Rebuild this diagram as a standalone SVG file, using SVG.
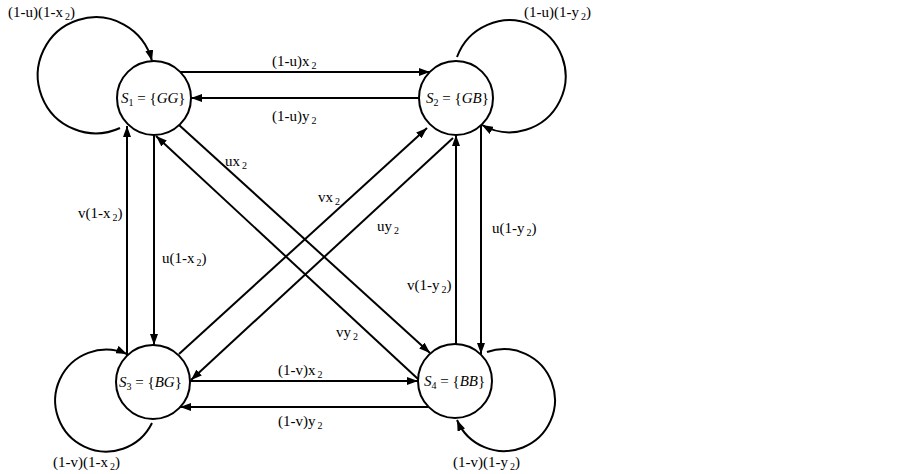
<svg xmlns="http://www.w3.org/2000/svg" width="903" height="474" viewBox="0 0 903 474">
<style>
.n{fill:#fff;stroke:#000;stroke-width:2}
.c{fill:none;stroke:#000;stroke-width:2;marker-end:url(#ah)}
.c0{fill:none;stroke:#000;stroke-width:2}
text{font-family:"Liberation Serif","Times New Roman",serif;font-size:15px;fill:#000}
.s{font-size:10px}
.i{font-style:italic}
</style>
<defs>
<marker id="ah" markerUnits="userSpaceOnUse" markerWidth="12" markerHeight="8" refX="11" refY="4" orient="auto">
<path d="M0,0 L11,4 L0,8 z" fill="#000"/>
</marker>
</defs>
<rect width="903" height="474" fill="#fff"/>
<g id="connectors">
<path class="c" d="M120,128 A58,58 0 1 1 152,61"/>
<path class="c" d="M457,57 A56,56 0 1 1 482,125"/>
<path class="c" d="M152,423 A51,51 0 1 1 127,354"/>
<path class="c" d="M487,352 A51,51 0 1 1 457,420"/>
<path class="c" d="M180,72 H430"/>
<path class="c" d="M419,98 H191"/>
<path class="c" d="M190,381 H418"/>
<path class="c" d="M428,407 H180"/>
<path class="c" d="M127,356 V126"/>
<path class="c" d="M154,135 V345"/>
<path class="c" d="M456,344 V135"/>
<path class="c" d="M481,125 V354"/>
<path class="c" d="M179,125 L430,353"/>
<path class="c" d="M418,379 L156,136"/>
<path class="c" d="M179,354 L427,128"/>
<path class="c" d="M453,138 L191,380"/>
</g>
<g id="labels">
<text x="8" y="17">(1-u)(1-x<tspan class="s" dx="2" dy="3">2</tspan><tspan dy="-3">)</tspan></text>
<text x="524" y="17">(1-u)(1-y<tspan class="s" dx="2" dy="3">2</tspan><tspan dy="-3">)</tspan></text>
<text x="272" y="66">(1-u)x<tspan class="s" dx="2" dy="3">2</tspan></text>
<text x="272" y="121">(1-u)y<tspan class="s" dx="2" dy="3">2</tspan></text>
<text x="225" y="166">ux<tspan class="s" dx="2" dy="3">2</tspan></text>
<text x="318" y="202">vx<tspan class="s" dx="2" dy="3">2</tspan></text>
<text x="377" y="231">uy<tspan class="s" dx="2" dy="3">2</tspan></text>
<text x="78" y="218">v(1-x<tspan class="s" dx="2" dy="3">2</tspan><tspan dy="-3">)</tspan></text>
<text x="162" y="263">u(1-x<tspan class="s" dx="2" dy="3">2</tspan><tspan dy="-3">)</tspan></text>
<text x="492" y="233">u(1-y<tspan class="s" dx="2" dy="3">2</tspan><tspan dy="-3">)</tspan></text>
<text x="407" y="290">v(1-y<tspan class="s" dx="2" dy="3">2</tspan><tspan dy="-3">)</tspan></text>
<text x="336" y="337">vy<tspan class="s" dx="2" dy="3">2</tspan></text>
<text x="278" y="375">(1-v)x<tspan class="s" dx="2" dy="3">2</tspan></text>
<text x="278" y="426">(1-v)y<tspan class="s" dx="2" dy="3">2</tspan></text>
<text x="53" y="467">(1-v)(1-x<tspan class="s" dx="2" dy="3">2</tspan><tspan dy="-3">)</tspan></text>
<text x="453" y="467">(1-v)(1-y<tspan class="s" dx="2" dy="3">2</tspan><tspan dy="-3">)</tspan></text>
</g>
<g id="S1">
<circle class="n" cx="154" cy="98" r="37"/>
<text x="121" y="103"><tspan class="i">S</tspan><tspan class="s" dy="3">1</tspan><tspan dy="-3"> = {</tspan><tspan class="i">GG</tspan>}</text>
</g>
<g id="S2">
<circle class="n" cx="456" cy="98" r="37"/>
<text x="426" y="103"><tspan class="i">S</tspan><tspan class="s" dy="3">2</tspan><tspan dy="-3"> = {</tspan><tspan class="i">GB</tspan>}</text>
</g>
<g id="S3">
<circle class="n" cx="153" cy="382" r="37"/>
<text x="119" y="387"><tspan class="i">S</tspan><tspan class="s" dy="3">3</tspan><tspan dy="-3"> = {</tspan><tspan class="i">BG</tspan>}</text>
</g>
<g id="S4">
<circle class="n" cx="455" cy="381" r="37"/>
<text x="424" y="386"><tspan class="i">S</tspan><tspan class="s" dy="3">4</tspan><tspan dy="-3"> = {</tspan><tspan class="i">BB</tspan>}</text>
</g>
</svg>
